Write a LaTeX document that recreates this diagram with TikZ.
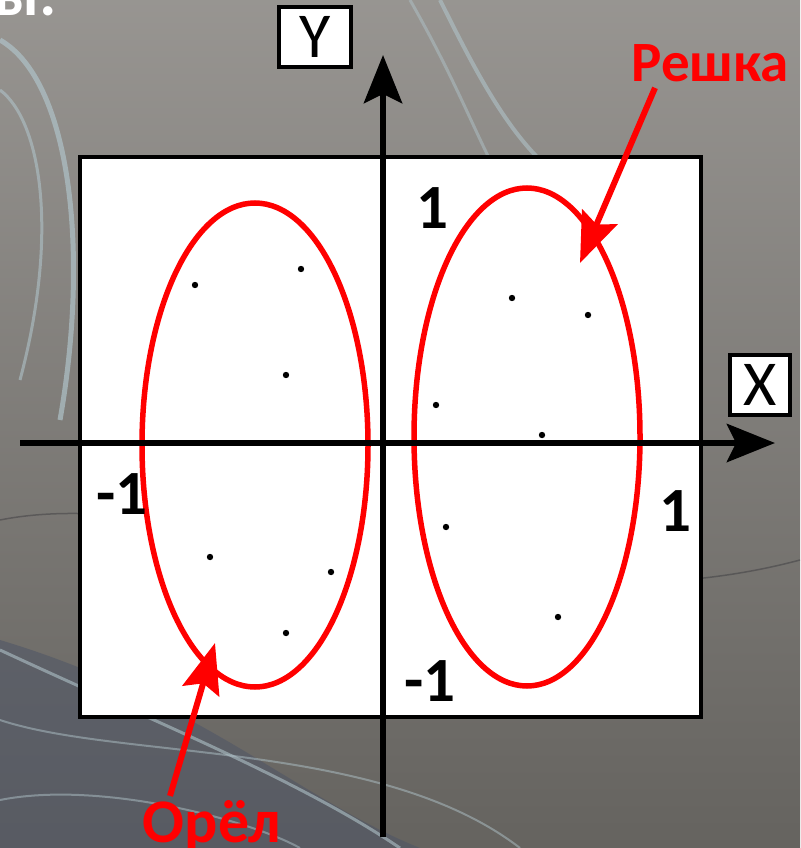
\documentclass[tikz,border=0pt]{standalone}
\usepackage{fontspec}
\setmainfont{Carlito}
\usetikzlibrary{positioning,arrows.meta,shapes.geometric}
\definecolor{Stone}{HTML}{8C8985}
\definecolor{StoneDark}{HTML}{65635F}
\definecolor{Mist}{HTML}{AFC2C8}
\definecolor{Slate}{HTML}{4E5566}
\definecolor{Ink}{HTML}{2E2E34}
\definecolor{Signal}{HTML}{FF0000}

\begin{document}
\begin{tikzpicture}[x=1pt,y=-1pt,
  every node/.style={font=\fontsize{63}{63}\selectfont\bfseries,inner sep=0pt},
  axisline/.style={line width=6.5pt,-{Stealth[length=48pt,width=38pt,inset=9pt]}},
  axistag/.style={draw,line width=4.5pt,fill=white,minimum width=70pt,minimum height=60pt,font=\fontsize{64}{64}\selectfont},
  oval/.style={ellipse,draw=Signal,line width=5.5pt,minimum width=226pt},
  pointer/.style={Signal,line width=6pt,-{Stealth[length=50pt,width=38pt,inset=8pt]}},
  side/.style={text=Signal}]
  % background
  \clip (0,0) rectangle (800,848);
  \shade[top color=Stone!90!white,bottom color=StoneDark] (0,0) rectangle (800,848);
  \draw[Ink,line width=6pt,opacity=.6] (150,300) arc[start angle=180,end angle=20,x radius=240,y radius=270];
  \draw[Ink,line width=2pt,opacity=.5] (120,330) arc[start angle=180,end angle=10,x radius=270,y radius=300];
  \draw[Ink,line width=1.5pt,opacity=.4] (0,520) .. controls (200,480) and (500,640) .. (800,560);
  \draw[Mist,line width=5pt,opacity=.7] (60,420) .. controls (90,250) and (70,80) .. (0,40);
  \draw[Mist,line width=3pt,opacity=.6] (20,380) .. controls (60,230) and (40,120) .. (0,90);
  \draw[Mist,line width=4pt,opacity=.6] (440,0) .. controls (470,60) and (500,120) .. (540,160);
  \draw[Mist,line width=3pt,opacity=.5] (410,0) .. controls (450,70) and (470,120) .. (490,160);
  \fill[Slate,opacity=.55] (0,640) .. controls (200,700) and (300,800) .. (420,848) -- (0,848) -- cycle;
  \draw[Mist,line width=3pt,opacity=.6] (0,650) .. controls (150,720) and (300,780) .. (400,848);
  \draw[Mist,line width=2pt,opacity=.5] (0,720) .. controls (120,760) and (380,740) .. (520,848);
  \draw[Mist,line width=2pt,opacity=.5] (0,800) .. controls (100,780) and (250,820) .. (300,848);
  \node[text=white,anchor=base west] (title) at (-6,16) {ы:};
  % plane
  \draw[line width=4.5pt,fill=white] (80,157) rectangle (701,717);
  \node[oval,minimum height=484pt] (orelSet) at (255,445) {};
  \node[oval,minimum height=498pt] (reshkaSet) at (527,437) {};
  \foreach \px/\py in {195/285,301/269,286/375,210/557,331/572,286/633,
                       512/298,588/315,436/405,542/435,446/527,558/617}
    \fill (\px,\py) circle[radius=3.2];
  % axes
  \coordinate (yFoot) at (383,837);
  \coordinate (yHead) at (383,55);
  \coordinate (xFoot) at (20,443);
  \coordinate (xHead) at (775,443);
  \draw[axisline] (yFoot) -- (yHead);
  \draw[axisline] (xFoot) -- (xHead);
  \node[axistag,minimum width=72pt] (yTag) at (315,37) {Y};
  \node[axistag,minimum width=60pt] (xTag) at (760,385) {X};
  \node (yOne) at (432,208) {1};
  \node (yMinus) at (430,681) {-1};
  \node (xMinus) at (122,494) {-1};
  \node (xOne) at (675,511) {1};
  % outcomes
  \node[side,font=\fontsize{57}{57}\selectfont\bfseries] (reshka) at (710,63) {Решка};
  \node[side,font=\fontsize{62}{62}\selectfont\bfseries] (orel) at (212,826) {Орёл};
  \coordinate (reshkaTip) at (580,263);
  \coordinate (orelTip) at (215,643);
  \draw[pointer] ([xshift=-55pt,yshift=-6pt]reshka.south) -- (reshkaTip);
  \draw[pointer] ([xshift=-42pt,yshift=4pt]orel.north) -- (orelTip);
\end{tikzpicture}
\end{document}
